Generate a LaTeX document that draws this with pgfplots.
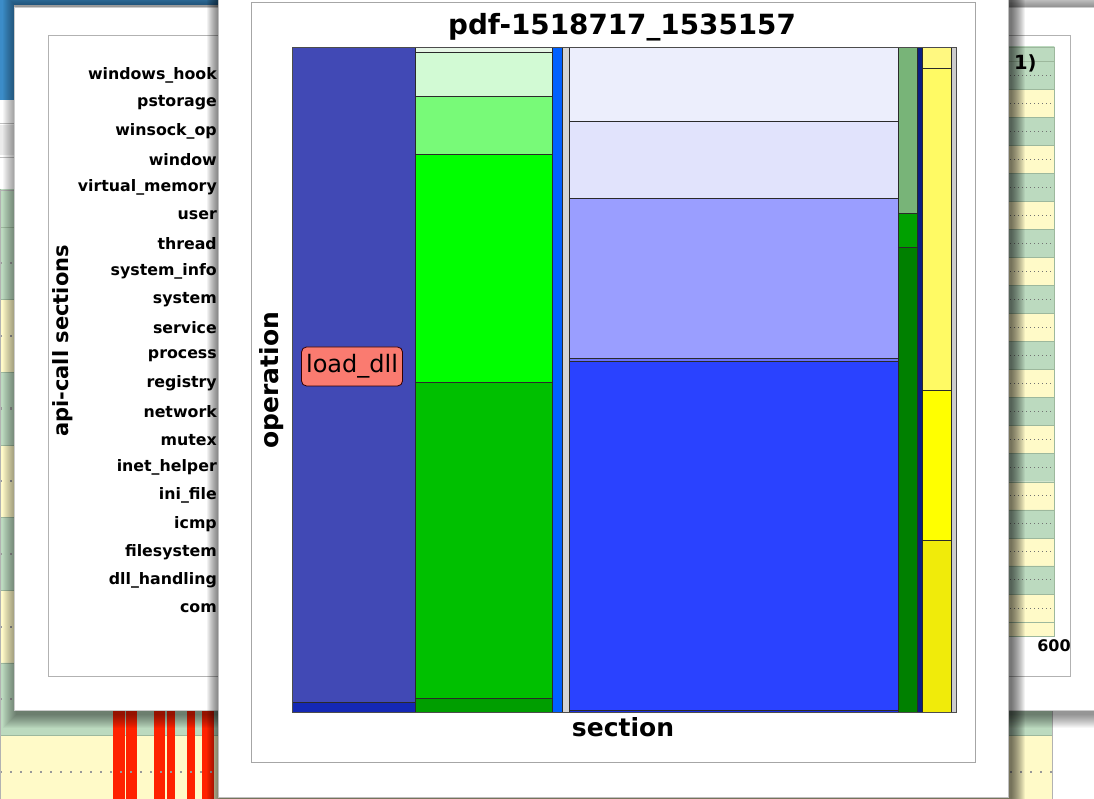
\documentclass[border=0pt]{standalone}
\usepackage{pgfplots}
\pgfplotsset{compat=1.18}
\usepackage{fontspec}
\setmainfont{DejaVu Sans}

\definecolor{desk}{HTML}{3C8CC8}
\definecolor{bggreen}{HTML}{BCDABF}
\definecolor{bgyellow}{HTML}{FFFAC8}
\definecolor{bgline}{HTML}{9DB89D}
\definecolor{redbar}{HTML}{FF2200}
\definecolor{edgec}{HTML}{2A2A2A}
\definecolor{c1main}{HTML}{4149B5}
\definecolor{c1bot}{HTML}{1428B4}
\definecolor{c2top}{HTML}{E6F6E6}
\definecolor{c2a}{HTML}{D2FAD4}
\definecolor{c2b}{HTML}{78FA78}
\definecolor{c2c}{HTML}{00FF00}
\definecolor{c2d}{HTML}{00C000}
\definecolor{c2e}{HTML}{009E00}
\definecolor{c3}{HTML}{0060FF}
\definecolor{c4}{HTML}{D3D3D3}
\definecolor{c5a}{HTML}{ECEEFC}
\definecolor{c5b}{HTML}{E1E3FC}
\definecolor{c5c}{HTML}{9A9EFF}
\definecolor{c5d}{HTML}{6870F8}
\definecolor{c5e}{HTML}{2A42FF}
\definecolor{c5f}{HTML}{1A30E0}
\definecolor{c6a}{HTML}{78B478}
\definecolor{c6b}{HTML}{00A000}
\definecolor{c6c}{HTML}{008000}
\definecolor{c7}{HTML}{0A1E82}
\definecolor{c8a}{HTML}{FFF880}
\definecolor{c8b}{HTML}{FFFA64}
\definecolor{c8c}{HTML}{FFFF00}
\definecolor{c8d}{HTML}{F0EB0A}
\definecolor{c9}{HTML}{CCCCCC}
\definecolor{salmon}{HTML}{FA7B70}

% one mosaic cell: x0 x1 y0 y1 colour
\newcommand{\cell}[5]{\addplot[fill=#5,draw=edgec,line width=0.8pt] coordinates {(#1,#3) (#2,#3) (#2,#4) (#1,#4)} -- cycle;}
\newcommand{\softshadow}[5]{%
  \foreach \i in {1,...,14}{\fill[black,opacity=#5] ({(#1-\i)*1pt},{(#2-\i)*1pt}) rectangle ({(#3+\i)*1pt},{(#4+\i)*1pt});}}

\begin{document}
\begin{tikzpicture}
\useasboundingbox (0pt,0pt) rectangle (1094pt,799pt);
\clip (0pt,0pt) rectangle (1094pt,799pt);
\fill[white] (0pt,0pt) rectangle (1094pt,799pt);
% desktop
\fill[desk] (0pt,699pt) rectangle (14pt,799pt);
\fill[desk] (0pt,794pt) rectangle (218pt,799pt);
\draw[black!25] (0pt,676pt) -- (14pt,676pt);
\fill[black!8] (0pt,644pt) rectangle (14pt,674pt);
\draw[black!25] (0pt,642pt) -- (14pt,642pt);

% ---------- far background chart ----------
\begin{axis}[at={(0pt,0pt)}, anchor=south west, scale only axis,
  width=1052pt, height=609pt, xmin=0, xmax=1052, ymin=-0.371, ymax=8.005,
  xtick=\empty, ytick={0,...,7}, yticklabels={}, major tick length=0pt,
  ymajorgrids, grid style={draw=black!40, line width=2.2pt, dash pattern=on 2.2pt off 7.8pt},
  axis line style={draw=black!30}, axis on top, no markers]
\addplot[xbar, bar width=1, bar shift=0pt, fill=bgyellow, draw=bgline] coordinates {(1052,0) (1052,2) (1052,4) (1052,6)};
\addplot[xbar, bar width=1, bar shift=0pt, fill=bggreen, draw=bgline] coordinates {(1052,1) (1052,3) (1052,5) (1052,7) (1052,8)};
\addplot[fill=redbar, draw=none] coordinates {(113,-0.6) (125,-0.6) (125,1.6) (113,1.6)} -- cycle;
\addplot[fill=redbar, draw=none] coordinates {(126,-0.6) (137,-0.6) (137,1.6) (126,1.6)} -- cycle;
\addplot[fill=redbar, draw=none] coordinates {(154,-0.6) (165,-0.6) (165,1.6) (154,1.6)} -- cycle;
\addplot[fill=redbar, draw=none] coordinates {(167,-0.6) (175,-0.6) (175,1.6) (167,1.6)} -- cycle;
\addplot[fill=redbar, draw=none] coordinates {(187,-0.6) (195,-0.6) (195,1.6) (187,1.6)} -- cycle;
\addplot[fill=redbar, draw=none] coordinates {(202,-0.6) (214,-0.6) (214,1.6) (202,1.6)} -- cycle;
\end{axis}

% ---------- background window ----------
\softshadow{17}{85}{1113}{792}{0.035}
\fill[white] (14pt,89pt) rectangle (1120pt,792pt);
\draw[black!20] (14pt,89pt) rectangle (1120pt,792pt);
\filldraw[fill=white, draw=black!30] (48pt,123pt) rectangle (1070pt,764pt);

\begin{axis}[at={(222pt,163pt)}, anchor=south west, scale only axis,
  width=832pt, height=589pt, xmin=0, xmax=600, ymin=-1, ymax=20,
  xtick={100,200,...,600}, ytick={0,...,19},
  yticklabels={com,dll\_handling,filesystem,icmp,ini\_file,inet\_helper,mutex,network,registry,process,service,system,system\_info,thread,user,virtual\_memory,window,winsock\_op,pstorage,windows\_hook},
  /pgf/number format/assume math mode=true,
  yticklabel style={font=\bfseries\fontsize{15.8}{18}\selectfont, anchor=east, inner sep=0pt, xshift=-5pt},
  xticklabel style={font=\bfseries\fontsize{16}{19}\selectfont},
  major tick length=0pt,
  ymajorgrids, grid style={draw=black!55, line width=0.8pt, dash pattern=on 0.8pt off 3.2pt},
  axis line style={draw=bgline}, axis on top, no markers]
\addplot[xbar, bar width=1, bar shift=0pt, fill=bgyellow, draw=bgline] coordinates {(600,-1) (600,0) (600,2) (600,4) (600,6) (600,8) (600,10) (600,12) (600,14) (600,16) (600,18)};
\addplot[xbar, bar width=1, bar shift=0pt, fill=bggreen, draw=bgline] coordinates {(600,1) (600,3) (600,5) (600,7) (600,9) (600,11) (600,13) (600,15) (600,17) (600,19) (600,20)};
\end{axis}
\node[rotate=90, anchor=base, font=\bfseries\fontsize{21}{24}\selectfont] at (68pt,458pt) {api-call sections};
\node[anchor=east, font=\bfseries\fontsize{19.5}{22}\selectfont] at (1040pt,736pt) {1)};

% ---------- popup window ----------
\softshadow{221}{-2}{1011}{804}{0.05}
\fill[white] (218pt,2pt) rectangle (1008pt,810pt);
\draw[black!25] (218pt,2pt) rectangle (1008pt,810pt);
\filldraw[fill=white, draw=black!35] (251pt,37pt) rectangle (975pt,797pt);

\begin{axis}[at={(292pt,86.5pt)}, anchor=south west, scale only axis,
  width=664pt, height=665pt, xmin=0, xmax=100, ymin=0, ymax=100,
  xtick=\empty, ytick=\empty, axis line style={draw=black!70, line width=0.9pt},
  axis on top, no markers]
% column 1
\cell{0}{18.52}{0}{1.53}{c1bot}
\cell{0}{18.52}{1.53}{100}{c1main}
% column 2
\cell{18.52}{39.20}{0}{2.14}{c2e}
\cell{18.52}{39.20}{2.14}{49.70}{c2d}
\cell{18.52}{39.20}{49.70}{83.94}{c2c}
\cell{18.52}{39.20}{83.94}{92.66}{c2b}
\cell{18.52}{39.20}{92.66}{99.28}{c2a}
\cell{18.52}{39.20}{99.28}{100}{c2top}
% column 3, 4
\cell{39.20}{40.77}{0}{100}{c3}
\cell{40.77}{41.76}{0}{100}{c4}
% column 5
\cell{41.76}{91.37}{0}{0.33}{c5f}
\cell{41.76}{91.37}{0.33}{52.75}{c5e}
\cell{41.76}{91.37}{52.75}{53.20}{c5d}
\cell{41.76}{91.37}{53.20}{77.37}{c5c}
\cell{41.76}{91.37}{77.37}{88.95}{c5b}
\cell{41.76}{91.37}{88.95}{100}{c5a}
% column 6
\cell{91.37}{94.17}{0}{69.95}{c6c}
\cell{91.37}{94.17}{69.95}{75.01}{c6b}
\cell{91.37}{94.17}{75.01}{100}{c6a}
% column 7
\cell{94.17}{94.95}{0}{100}{c7}
% column 8
\cell{94.95}{99.32}{0}{25.89}{c8d}
\cell{94.95}{99.32}{25.89}{48.50}{c8c}
\cell{94.95}{99.32}{48.50}{96.87}{c8b}
\cell{94.95}{99.32}{96.87}{100}{c8a}
% column 9
\cell{99.32}{100}{0}{100}{c9}
\node[fill=salmon, draw=black!80!red, line width=0.8pt, rounded corners=5pt,
  minimum width=101pt, minimum height=39pt, inner sep=0pt,
  font=\fontsize{24}{28}\selectfont] at (axis cs:9.04,52.03) {load\_dll};
\end{axis}

\node[anchor=base, font=\bfseries\fontsize{27.8}{30}\selectfont] at (622pt,764pt) {pdf-1518717\_1535157};
\node[anchor=base, font=\bfseries\fontsize{25}{28}\selectfont] at (623pt,62.3pt) {section};
\node[rotate=90, anchor=base, font=\bfseries\fontsize{25}{28}\selectfont] at (278.5pt,419pt) {operation};
\end{tikzpicture}
\end{document}
